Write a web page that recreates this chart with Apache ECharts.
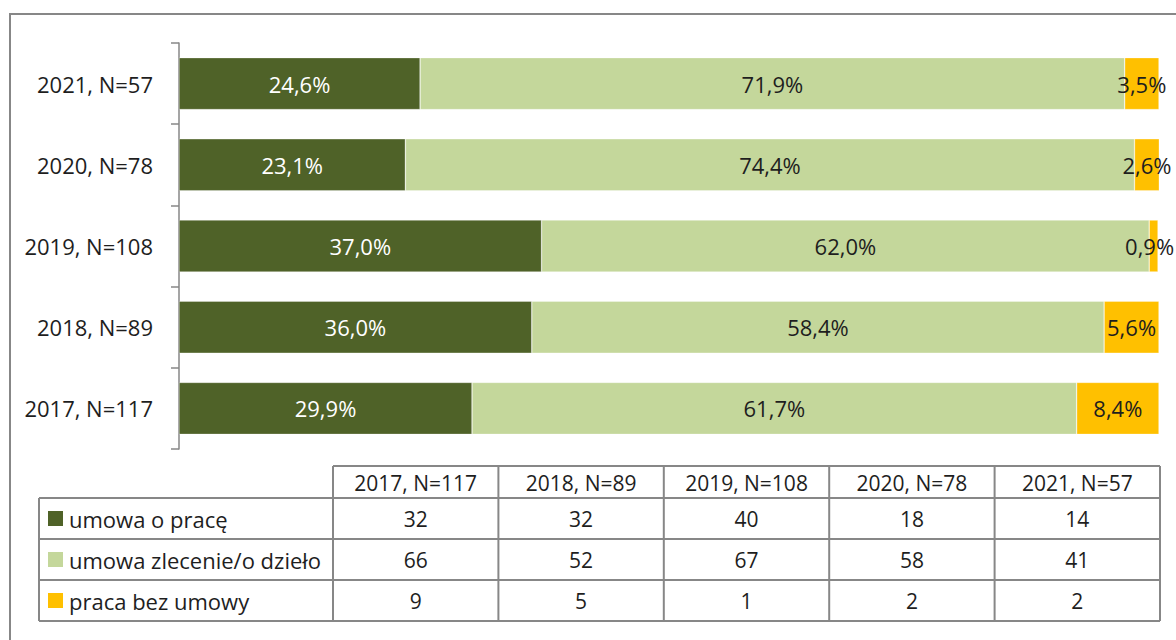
<!DOCTYPE html>
<html>
<head>
<meta charset="utf-8">
<script src="https://cdn.jsdelivr.net/npm/echarts@6/dist/echarts.min.js"></script>
<style>
  html, body { margin: 0; padding: 0; background: #fff; }
  #chart { width: 1176px; height: 640px; }
</style>
</head>
<body>
<div id="chart"></div>
<script>
  // categories, bottom to top on the axis, left to right in the table
  var years = ['2017, N=117', '2018, N=89', '2019, N=108', '2020, N=78', '2021, N=57'];
  var seriesNames = ['umowa o pracę', 'umowa zlecenie/o dzieło', 'praca bez umowy'];

  // percentages shown on the bars
  var pctPraca = [29.9, 36.0, 37.0, 23.1, 24.6];
  var pctZlecenie = [61.7, 58.4, 62.0, 74.4, 71.9];
  var pctBez = [8.4, 5.6, 0.9, 2.6, 3.5];

  // counts shown in the table
  var cntPraca = [32, 32, 40, 18, 14];
  var cntZlecenie = [66, 52, 67, 58, 41];
  var cntBez = [9, 5, 1, 2, 2];

  var colors = ['#4f6228', '#c4d79b', '#ffc000'];
  var labelColors = ['#ffffff', '#1e1e1e', '#1e1e1e'];
  var fontFamily = '"Open Sans", "Noto Sans", sans-serif';
  var gridColor = '#878787';

  let myChart = echarts.init(document.getElementById('chart'), null, { renderer: 'svg' });

  function fmtPct(v) {
    return v.toFixed(1).replace('.', ',') + '%';
  }

  function makeSeries(idx, data) {
    // very thin end segments: nudge the label a bit left so it stays on the page
    let items = data.map(v => (idx === 2 && v < 1.5) ? { value: v, label: { offset: [-4, 0] } } : v);
    return {
      name: seriesNames[idx],
      type: 'bar',
      stack: 'total',
      barCategoryGap: '36%',
      data: items,
      itemStyle: {
        color: colors[idx],
        borderColor: 'rgba(255,255,255,0.5)',
        borderWidth: 0.6
      },
      label: {
        show: true,
        position: 'inside',
        color: labelColors[idx],
        fontFamily: fontFamily,
        fontSize: 22,
        formatter: function (p) { return fmtPct(p.value); }
      },
      animation: false
    };
  }

  // data table under the chart (layout of the table, contents from the arrays)
  function buildTable() {
    let left = 39, firstCol = 333, colW = 165.4, top = 466, headH = 32, rowH = 41;
    let right = firstCol + colW * years.length;
    let bottom = top + headH + rowH * seriesNames.length;
    let els = [];
    let line = function (x1, y1, x2, y2) {
      els.push({
        type: 'line',
        shape: { x1: x1, y1: y1, x2: x2, y2: y2 },
        style: { stroke: gridColor, lineWidth: 2 },
        silent: true
      });
    };
    let text = function (str, x, y, align, size) {
      els.push({
        type: 'text',
        x: x, y: y,
        style: {
          text: str, fill: '#1e1e1e', font: size + 'px ' + fontFamily,
          align: align, verticalAlign: 'middle'
        },
        silent: true
      });
    };
    line(firstCol, top, right, top);
    for (let r = 0; r <= seriesNames.length; r++) {
      let y = top + headH + rowH * r;
      line(left, y, right, y);
    }
    line(left, top + headH, left, bottom);
    for (let c = 0; c <= years.length; c++) {
      let x = firstCol + colW * c;
      line(x, top, x, bottom);
    }
    years.forEach((name, c) => {
      text(name, firstCol + colW * c + colW / 2, top + headH / 2 + 1, 'center', 21);
    });
    let counts = [cntPraca, cntZlecenie, cntBez];
    seriesNames.forEach((name, r) => {
      let cy = top + headH + rowH * r + rowH / 2;
      els.push({
        type: 'rect',
        shape: { x: left + 9, y: cy - 7.5, width: 15, height: 15 },
        style: { fill: colors[r] },
        silent: true
      });
      text(name, left + 30, cy, 'left', 22);
      counts[r].forEach((v, c) => {
        text(String(v), firstCol + colW * c + colW / 2, cy, 'center', 21);
      });
    });
    return els;
  }

  let option = {
    backgroundColor: '#fff',
    animation: false,
    grid: {
      left: 179,
      top: 43,
      width: 980,
      height: 406
    },
    xAxis: {
      type: 'value',
      min: 0,
      max: 100,
      show: false
    },
    yAxis: {
      type: 'category',
      data: years,
      axisLine: { lineStyle: { color: gridColor, width: 1.5 } },
      axisTick: { show: true, length: 8, lineStyle: { color: gridColor, width: 1.5 } },
      axisLabel: {
        margin: 26,
        color: '#1e1e1e',
        fontFamily: fontFamily,
        fontSize: 22
      }
    },
    series: [
      makeSeries(0, pctPraca),
      makeSeries(1, pctZlecenie),
      makeSeries(2, pctBez)
    ],
    graphic: [
      {
        type: 'rect',
        shape: { x: 10, y: 14, width: 1300, height: 800 },
        style: { fill: 'none', stroke: gridColor, lineWidth: 2 },
        silent: true,
        z: -1
      },
      {
        type: 'group',
        children: buildTable()
      }
    ]
  };
  myChart.setOption(option);
</script>
</body>
</html>
